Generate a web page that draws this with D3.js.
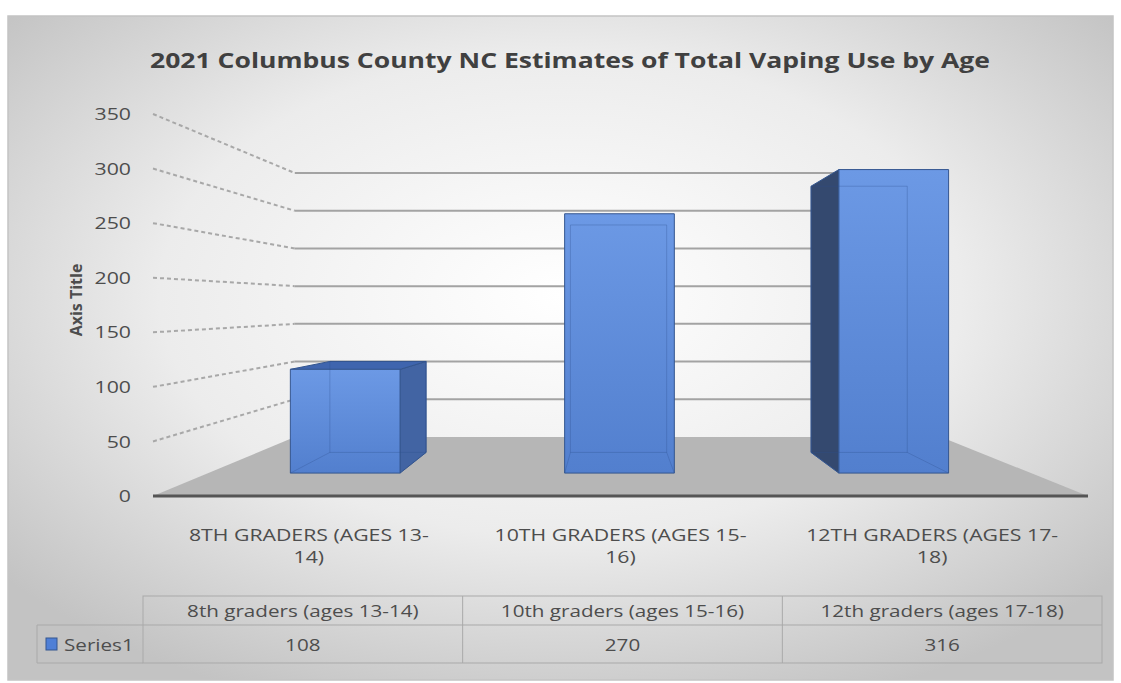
<!DOCTYPE html>
<html>
<head>
<meta charset="utf-8">
<script src="https://cdn.jsdelivr.net/npm/d3@7"></script>
<style>
  body { margin: 0; background: #fff; }
  svg { display: block; font-family: "Open Sans", "Noto Sans", sans-serif; }
</style>
</head>
<body>
<svg id="chart" width="1121" height="683"></svg>
<script>
// data
var title = "2021 Columbus County NC Estimates of Total Vaping Use by Age";
var axisTitle = "Axis Title";
var seriesName = "Series1";
var categories = ["8th graders (ages 13-14)", "10th graders (ages 15-16)", "12th graders (ages 17-18)"];
var values = [108, 270, 316];
var yTicks = [0, 50, 100, 150, 200, 250, 300, 350];

function init(){
    var svg = d3.select("svg#chart");
    var defs = svg.append("defs");
    var SX = 1.25;   // the reference text is drawn wide
    var textCol = "#4d4d4d";

    // widen text horizontally, keeping its anchor
    function widen(sel){
        sel.each(function(){
            var w = this.getComputedTextLength();
            d3.select(this).attr("textLength", w * SX).attr("lengthAdjust", "spacingAndGlyphs");
        });
    }

    // chart area background
    var bg = defs.append("radialGradient").attr("id", "bg")
        .attr("cx", 0.5).attr("cy", 0.42).attr("r", 0.66);
    bg.append("stop").attr("offset", "0%").attr("stop-color", "#ffffff");
    bg.append("stop").attr("offset", "55%").attr("stop-color", "#ececec");
    bg.append("stop").attr("offset", "100%").attr("stop-color", "#c3c3c3");

    var barGrad = defs.append("linearGradient").attr("id", "barFront")
        .attr("x1", 0).attr("y1", 0).attr("x2", 0).attr("y2", 1);
    barGrad.append("stop").attr("offset", "0%").attr("stop-color", "#6c99e5");
    barGrad.append("stop").attr("offset", "100%").attr("stop-color", "#527fce");

    svg.append("rect")
        .attr("x", 8).attr("y", 16)
        .attr("width", 1105).attr("height", 664)
        .attr("fill", "url(#bg)")
        .attr("stroke", "#c4c4c4").attr("stroke-width", 1.5);

    // front plane scales, then a simple perspective toward (vx, vy)
    var x = d3.scaleBand().domain(categories).range([153, 1088])
        .paddingInner(0.6).paddingOuter(0.3);
    var y = d3.scaleLinear().domain([0, 350]).range([496, 114]);
    var vx = 612, vy = 305, k = 0.447;
    var z0 = 0.305, z1 = 0.661;   // bar depth inside the floor

    function P(X, v, z){
        var s = 1 / (1 + k * z);
        return [vx + (X - vx) * s, vy + (y(v) - vy) * s];
    }
    var xl = x.range()[0], xr = x.range()[1];
    var line = d3.line();

    var g = svg.append("g");

    // floor
    g.append("path")
        .attr("d", line([P(xl, 0, 0), P(xr, 0, 0), P(xr, 0, 1), P(xl, 0, 1)]) + "Z")
        .attr("fill", "#b6b6b6");

    // back wall gridlines
    g.selectAll("line.back")
        .data(yTicks.filter(function(d){ return d > 0; }))
        .enter().append("line")
        .attr("class", "back")
        .attr("x1", function(d){ return P(xl, d, 1)[0]; })
        .attr("y1", function(d){ return P(xl, d, 1)[1]; })
        .attr("x2", function(d){ return P(xr, d, 1)[0]; })
        .attr("y2", function(d){ return P(xr, d, 1)[1]; })
        .attr("stroke", "#a3a3a3").attr("stroke-width", 2);

    // side wall gridlines
    g.selectAll("line.side")
        .data(yTicks.filter(function(d){ return d > 0; }))
        .enter().append("line")
        .attr("class", "side")
        .attr("x1", function(d){ return P(xl, d, 0)[0]; })
        .attr("y1", function(d){ return P(xl, d, 0)[1]; })
        .attr("x2", function(d){ return P(xl, d, 1)[0]; })
        .attr("y2", function(d){ return P(xl, d, 1)[1]; })
        .attr("stroke", "#a8a8a8").attr("stroke-width", 2)
        .attr("stroke-dasharray", "4,3");

    // category axis line
    g.append("line")
        .attr("x1", P(xl, 0, 0)[0]).attr("y1", P(xl, 0, 0)[1])
        .attr("x2", P(xr, 0, 0)[0]).attr("y2", P(xr, 0, 0)[1])
        .attr("stroke", "#555").attr("stroke-width", 3);

    // bars as boxes
    var bars = categories.map(function(c, i){
        return { cat: c, value: values[i], X0: x(c), X1: x(c) + x.bandwidth() };
    });

    bars.forEach(function(b){
        var bg = g.append("g").attr("class", "bar");
        var v = b.value;
        var face = function(pts, fill){
            bg.append("path").attr("d", line(pts) + "Z")
              .attr("fill", fill)
              .attr("stroke", "#34568f").attr("stroke-width", 1)
              .attr("stroke-linejoin", "round");
        };
        if (b.X1 < vx) face([P(b.X1, 0, z0), P(b.X1, 0, z1), P(b.X1, v, z1), P(b.X1, v, z0)], "#4264a3");
        if (b.X0 > vx) face([P(b.X0, 0, z0), P(b.X0, 0, z1), P(b.X0, v, z1), P(b.X0, v, z0)], "#34496f");
        if (P(b.X0, v, z0)[1] > vy) face([P(b.X0, v, z0), P(b.X1, v, z0), P(b.X1, v, z1), P(b.X0, v, z1)], "#3f65ae");
        face([P(b.X0, 0, z0), P(b.X1, 0, z0), P(b.X1, v, z0), P(b.X0, v, z0)], "url(#barFront)");

        // faint back edges seen through the front
        var edges = [
            [P(b.X0, 0, z1), P(b.X1, 0, z1)],
            [P(b.X0, 0, z1), P(b.X0, v, z1)],
            [P(b.X1, 0, z1), P(b.X1, v, z1)],
            [P(b.X0, v, z1), P(b.X1, v, z1)],
            [P(b.X0, 0, z0), P(b.X0, 0, z1)],
            [P(b.X1, 0, z0), P(b.X1, 0, z1)]
        ];
        edges.forEach(function(e){
            bg.append("path").attr("d", line(e))
              .attr("stroke", "#2e4f8f").attr("stroke-opacity", 0.3)
              .attr("stroke-width", 1).attr("fill", "none");
        });
    });

    // value axis labels
    g.selectAll("text.ytick")
        .data(yTicks)
        .enter().append("text")
        .attr("class", "ytick")
        .attr("x", 131)
        .attr("y", function(d){ return y(d); })
        .attr("dy", "0.36em")
        .attr("text-anchor", "end")
        .attr("fill", textCol)
        .style("font-size", "17px")
        .text(function(d){ return d; })
        .call(widen);

    svg.append("text")
        .attr("transform", "translate(82,300) rotate(-90)")
        .attr("text-anchor", "middle")
        .attr("fill", textCol)
        .style("font-size", "16px").style("font-weight", "bold")
        .text(axisTitle);

    // title
    svg.append("text")
        .attr("x", 570).attr("y", 68)
        .attr("text-anchor", "middle")
        .attr("fill", "#404040")
        .style("font-size", "21px").style("font-weight", "bold")
        .attr("textLength", 840).attr("lengthAdjust", "spacingAndGlyphs")
        .text(title);

    // category labels, wrapped
    function wrap(str, maxW, probe){
        var tokens = str.split(/(?<=[ \-])/);
        var lines = [], cur = "";
        tokens.forEach(function(t){
            probe.text(cur + t);
            if (cur && probe.node().getComputedTextLength() * SX > maxW){
                lines.push(cur.trim());
                cur = t;
            } else {
                cur += t;
            }
        });
        lines.push(cur.trim());
        probe.text("");
        return lines;
    }
    var probe = svg.append("text").style("font-size", "17px");
    categories.forEach(function(c){
        var cx = x(c) + x.bandwidth() / 2;
        var lines = wrap(c.toUpperCase(), 266, probe);
        lines.forEach(function(l, i){
            svg.append("text")
                .attr("x", cx)
                .attr("y", 541 + i * 22)
                .attr("text-anchor", "middle")
                .attr("fill", textCol)
                .style("font-size", "17px")
                .text(l)
                .call(widen);
        });
    });
    probe.remove();

    // data table
    var top = 596, mid = 625, bot = 663, tLeft = 37;
    var tl = xl - 10, tr = xr + 14;
    var tg = svg.append("g").attr("stroke", "#a9a9a9").attr("stroke-width", 1).attr("fill", "none");
    tg.append("rect").attr("x", tl).attr("y", top).attr("width", tr - tl).attr("height", bot - top);
    tg.append("line").attr("x1", tLeft).attr("x2", tr).attr("y1", mid).attr("y2", mid);
    tg.append("line").attr("x1", tLeft).attr("x2", tl).attr("y1", bot).attr("y2", bot);
    tg.append("line").attr("x1", tLeft).attr("x2", tLeft).attr("y1", mid).attr("y2", bot);

    var colX = function(i){ return tl + i * (tr - tl) / categories.length; };
    tg.selectAll("line.col")
        .data(d3.range(1, categories.length))
        .enter().append("line")
        .attr("x1", colX).attr("x2", colX)
        .attr("y1", top).attr("y2", bot);

    categories.forEach(function(c, i){
        var cx = (colX(i) + colX(i + 1)) / 2;
        svg.append("text")
            .attr("x", cx).attr("y", 617)
            .attr("text-anchor", "middle").attr("fill", textCol)
            .style("font-size", "16.5px")
            .text(c)
            .call(widen);
        svg.append("text")
            .attr("x", cx).attr("y", 651)
            .attr("text-anchor", "middle").attr("fill", textCol)
            .style("font-size", "16.5px")
            .text(values[i])
            .call(widen);
    });

    svg.append("rect")
        .attr("x", 46).attr("y", 638).attr("width", 11).attr("height", 12)
        .attr("fill", "#4f7fd6").attr("stroke", "#34568f").attr("stroke-width", 1);
    svg.append("text")
        .attr("x", 64).attr("y", 651)
        .attr("fill", textCol)
        .style("font-size", "16.5px")
        .text(seriesName)
        .call(widen);
}

init();
</script>
</body>
</html>
